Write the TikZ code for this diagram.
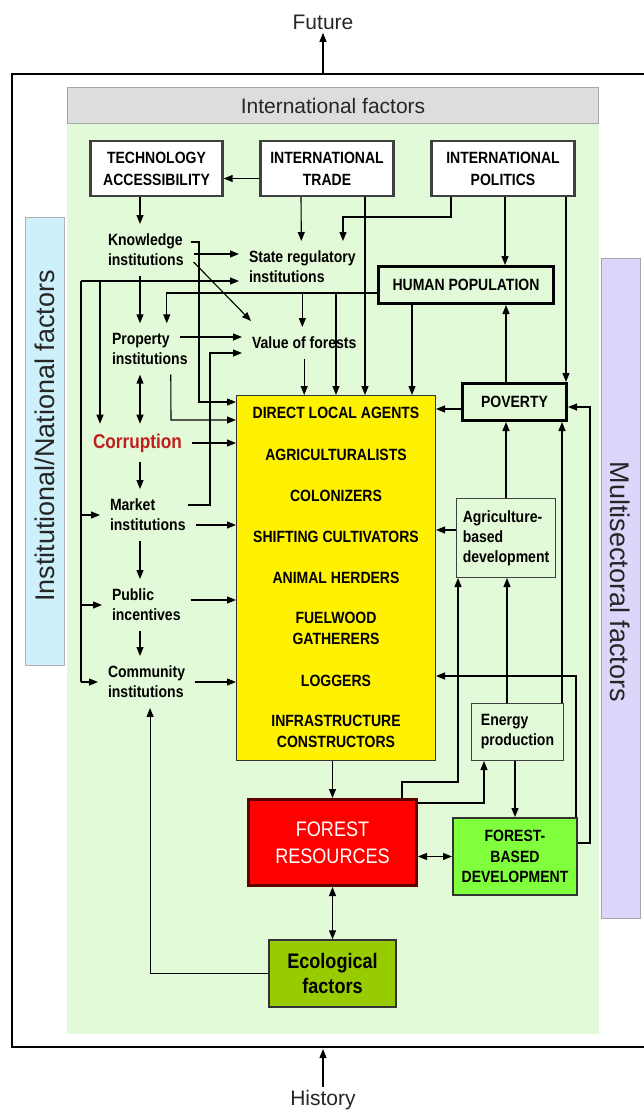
\documentclass[tikz,border=0pt]{standalone}
\usepackage{fontspec}
\setmainfont{Liberation Sans}
\newfontfamily\narrowsans[FakeStretch=0.86]{Liberation Sans}
\usetikzlibrary{calc,arrows.meta}
\definecolor{bggreen}{RGB}{226,250,215}
\definecolor{intgray}{RGB}{221,221,221}
\definecolor{sidecyan}{RGB}{205,240,250}
\definecolor{sidepurple}{RGB}{221,213,250}
\definecolor{fbdgreen}{RGB}{128,255,60}
\definecolor{ecogreen}{RGB}{153,204,0}
\definecolor{corrred}{RGB}{190,30,30}
\definecolor{frborder}{RGB}{95,0,0}
\def\lblfont{\narrowsans\fontsize{16.3}{20}\selectfont\bfseries}
\def\bigfont{\fontsize{21}{25}\selectfont}
\def\sidefont{\fontsize{27}{30}\selectfont}
\tikzset{
  >={Triangle[length=9pt,width=7pt]},
  link/.style={->, line width=1.1pt},
  intbox/.style={draw=black!75, line width=2.4pt, fill=white, minimum height=55pt,
        align=center, font=\narrowsans\fontsize{16.3}{22}\selectfont\bfseries},
  thickbox/.style={draw=black, line width=3pt, fill=bggreen, minimum height=37pt, font=\lblfont},
  thinbox/.style={draw=black!75, line width=1pt, fill=bggreen, align=left, font=\lblfont},
  inst/.style={anchor=west, align=left, inner sep=2pt, outer sep=8pt, font=\lblfont},
  agent/.style={align=center, inner sep=0pt, font=\narrowsans\fontsize{16.3}{21}\selectfont\bfseries}
}
\begin{document}
\begin{tikzpicture}[x=1pt,y=-1pt]
\useasboundingbox (0,0) rectangle (644,1115);
% background panels
\fill[bggreen] (67,124) rectangle (599,1034);
\filldraw[fill=sidecyan, draw=black!30, line width=1pt] (25,218) rectangle (64,665);
\filldraw[fill=sidepurple, draw=black!35, line width=1pt] (601,258) rectangle (640,918);
\node[rotate=90, font=\sidefont, text=black!85] (natl) at (45,436) {Institutional/National factors};
\node[rotate=-90, font=\sidefont, text=black!85] (multi) at (620,582) {Multisectoral factors};
\node[draw=black!35, fill=intgray, line width=1.5pt, minimum width=531pt, minimum height=36pt,
      font=\bigfont, text=black!85] (intl) at (333,105.5) {International factors};
\draw[line width=2.5pt] (12,74) rectangle (660,1047);
\node[font=\bigfont, text=black!85] (future) at (323,22) {Future};
\node[font=\bigfont, text=black!85] (history) at (323,1100) {History};
\coordinate (ftop) at (323,74);
\coordinate (fbot) at (323,1049);
\draw[link] (ftop) -- (future.south);
\draw[link] (history.north) -- (fbot);

% international boxes
\node[intbox, minimum width=132pt] (tech) at (156.5,168.5) {TECHNOLOGY\\ACCESSIBILITY};
\node[intbox, minimum width=133pt] (trade) at (327,168.5) {INTERNATIONAL\\TRADE};
\node[intbox, minimum width=143pt] (politics) at (503,168.5) {INTERNATIONAL\\POLITICS};
\node[thickbox, minimum width=175pt] (hp) at (466,285) {HUMAN POPULATION};
\node[thickbox, minimum width=104pt] (pov) at (514.5,402) {POVERTY};

% institutions
\node[inst] (know) at (98,250) {Knowledge\\institutions};
\node[inst] (state) at (239,267) {State regulatory\\institutions};
\node[inst] (prop) at (102,349) {Property\\institutions};
\node[inst] (value) at (242,343) {Value of forests};
\node[inst, font=\narrowsans\fontsize{20}{22}\selectfont\bfseries, text=corrred] (corr) at (83,443) {Corruption};
\node[inst] (market) at (100,515) {Market\\institutions};
\node[inst] (public) at (102,605) {Public\\incentives};
\node[inst] (comm) at (98,682) {Community\\institutions};

% direct agents
\node[draw=black!80, line width=1pt, fill=yellow, minimum width=199pt, minimum height=365pt] (agents) at (336,578) {};
\foreach \y/\t [count=\i] in {413/DIRECT LOCAL AGENTS, 455/AGRICULTURALISTS, 496/COLONIZERS,
    537/SHIFTING CULTIVATORS, 578/ANIMAL HERDERS, 628.5/{FUELWOOD\\GATHERERS}, 681/LOGGERS,
    731.5/{INFRASTRUCTURE\\CONSTRUCTORS}}
  \node[agent] (ag\i) at (336,\y) {\t};

% sector boxes
\node[thinbox, minimum width=99pt, minimum height=79pt] (agri) at (506,538) {Agriculture-\\based\\development};
\node[thinbox, minimum width=92pt, minimum height=57pt] (energy) at (517.5,732) {Energy\\production};
\node[draw=black!80, line width=2pt, fill=fbdgreen, minimum width=124pt, minimum height=77pt,
      align=center, font=\narrowsans\fontsize{16.3}{20.5}\selectfont\bfseries] (fbd) at (515,856.5) {FOREST-\\BASED\\DEVELOPMENT};
\node[draw=frborder, line width=3pt, fill=red, minimum width=168pt, minimum height=86pt,
      align=center, text=white, font=\narrowsans\fontsize{21}{27}\selectfont] (fr) at (332.5,842.5) {FOREST\\RESOURCES};
\node[draw=black!80, line width=1.5pt, fill=ecogreen, minimum width=127pt, minimum height=67pt,
      align=center, font=\narrowsans\fontsize{21}{25}\selectfont\bfseries] (eco) at (332.5,973.5) {Ecological\\factors};

% bends
\coordinate (lcol) at (140,0);
\coordinate (polbend) at (343,217);
\coordinate (khook) at (199,402);
\coordinate (prbend) at (171,420);
\coordinate (mkbend) at (210,353);
\coordinate (busa) at (81,281);
\coordinate (busb) at (100,281);
\coordinate (frbend) at (458,782);
\coordinate (frbend2) at (484,803);
\coordinate (fbdup) at (576,676);
\coordinate (fbdr) at (590,843);

% international links
\draw[link] ($(trade.west)+(0,10)$) -- ($(tech.east)+(0,10)$);
\draw[link] ($(trade.south)+(-26,0)$) -- ($(state.north)+(-1,0)$);
\draw[link] ($(politics.south)+(-52,0)$) |- (polbend) -- (polbend |- state.north);
\draw[link] ($(trade.south)+(38,0)$) -- ($(agents.north)+(29,0)$);
\draw[link] ($(politics.south)+(2,0)$) -- ($(hp.north)+(39,0)$);
\draw[link] ($(politics.south)+(63,0)$) -- ($(pov.north)+(51.5,0)$);
\draw[link] ($(hp.south)+(-54,0)$) -- ($(agents.north)+(76,0)$);
\draw[link] ($(pov.north)+(-8.5,0)$) -- ($(hp.south)+(40,0)$);
\draw[link] ($(hp.west)+(0,8)$) -| ($(prop.north)+(17,0)$);

% institution links
\draw[link] (tech.south -| lcol) -- (know.north -| lcol);
\draw[link] (know.south -| lcol) -- (prop.north -| lcol);
\draw[link, <->] (prop.south -| lcol) -- (corr.north -| lcol);
\draw[link] (corr.south -| lcol) -- (market.north -| lcol);
\draw[link] (market.south -| lcol) -- (public.north -| lcol);
\draw[link] (public.south -| lcol) -- (comm.north -| lcol);
\draw[link] ($(know.east)+(0,4)$) -- ($(state.west |- know.east)+(0,4)$);
\draw[link] ($(know.east)+(0,12)$) -- ($(value.north west)+(9,-6)$);
\draw[link] ($(know.east)+(-3,-8)$) -| (khook) -- (khook -| agents.west);
\draw[link] (state.south) -- (state.south |- value.north);
\draw[link] (state.south -| agents.north) -- (agents.north);
\draw[link] (value.south) -- (value.south |- agents.north);
\draw[link] ($(prop.west)+(78,-12)$) -- ($(value.west)+(0,-6)$);
\draw[link] ($(market.east)+(-8,-10)$) -| (mkbend) -- ($(value.west)+(0,10)$);
\draw[link] ($(prop.south)+(21,0)$) -- (prbend) -- (prbend -| agents.west);
\draw[link] (corr.east) -- (corr.east -| agents.west);
\draw[link] ($(market.east)+(0,10)$) -- ($(agents.west |- market.east)+(0,10)$);
\draw[link] ($(public.east)+(0,-5)$) -- ($(agents.west |- public.east)+(0,-5)$);
\draw[link] (comm.east) -- (comm.east -| agents.west);
\draw[link] (busa) -- (busa -| state.west);
\draw[line width=1.1pt] (busa) -- (busa |- comm.west);
\draw[link] (busa |- market.west) -- (market.west);
\draw[link] (busa |- public.west) -- (public.west);
\draw[link] (busa |- comm.west) -- (comm.west);
\draw[link] (busb) -- (busb |- corr.north);

% sector links
\draw[link] ($(pov.west)+(0,7)$) -- ($(agents.east |- pov.west)+(0,7)$);
\draw[link] ($(agri.west)+(0,-8)$) -- ($(agents.east |- agri.west)+(0,-8)$);
\draw[link] (agri.north) -- (agri.north |- pov.south);
\draw[link] ($(energy.north)+(-10.5,0)$) -- ($(agri.south)+(1,0)$);
\draw[link] ($(energy.north)+(44.5,0)$) -- ($(pov.south)+(47.5,0)$);
\draw[link] (energy.south -| fbd.north) -- (fbd.north);
\draw[link] (fbd.north -| fbdup) -- (fbdup) -- (fbdup -| agents.east);
\draw[link] (fbd.east |- fbdr) -- (fbdr) |- ($(pov.east)+(0,5)$);
\draw[link] ($(fr.north)+(69.5,0)$) |- (frbend) -- (frbend |- agri.south);
\draw[link] (fr.east |- frbend2) -- (frbend2) -- (frbend2 |- energy.south);
\draw[link] (agents.south -| fr.north) -- (fr.north);
\draw[link, <->] (fr.south) -- (eco.north);
\draw[link, <->] (fbd.west -| fr.east) -- (fbd.west);
\draw[link] (eco.west) -| ($(comm.south)+(3.5,0)$);
\end{tikzpicture}
\end{document}
